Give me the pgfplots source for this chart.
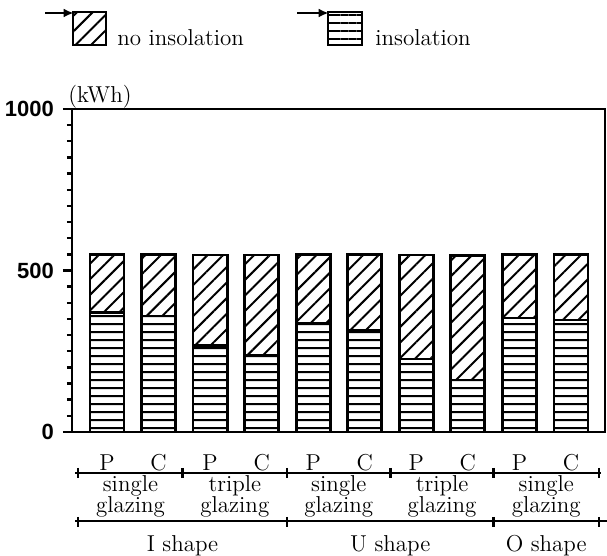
\documentclass[border=0pt]{standalone}
\usepackage{fontspec}
\usepackage{pgfplots}
\pgfplotsset{compat=1.18}
\usetikzlibrary{patterns.meta, arrows.meta}
\newfontfamily\ticksans{Liberation Sans}

\begin{document}
\begin{tikzpicture}[font=\fontsize{11.5}{10.5}\selectfont]
\useasboundingbox (-36pt,-62pt) rectangle (267.5pt,216pt);
\begin{axis}[
  at={(0,0)}, anchor=south west,
  scale only axis, width=266.5pt, height=161.5pt,
  xmin=-0.679, xmax=9.66, ymin=0, ymax=1000,
  ybar stacked, bar width=0.66,
  axis line style={line width=1.2pt},
  xtick={0,...,9}, xticklabels={P,C,P,C,P,C,P,C,P,C},
  x tick style={draw=none},
  xticklabel style={anchor=base, yshift=-15pt, font=\fontsize{11.5}{13}\selectfont},
  ytick={0,500,1000}, minor y tick num=9,
  ytick pos=left, tick align=outside,
  major tick length=4.5pt, minor tick length=2.5pt,
  y tick style={line width=1.2pt, black},
  /pgf/number format/1000 sep={},
  /pgf/number format/assume math mode=true,
  yticklabel style={font=\ticksans\bfseries\fontsize{11}{12}\selectfont, xshift=-1pt},
  clip=false,
]
% insolation (bottom part)
\addplot[draw=black, line width=1.4pt, pattern={Lines[angle=0,distance=4pt,line width=1pt]}]
  coordinates {(0,371) (1,359) (2,269) (3,238) (4,337) (5,316) (6,226) (7,161) (8,353) (9,347)};
% no insolation (top part)
\addplot[draw=black, line width=1.4pt, pattern={Lines[angle=45,distance=5.5pt,line width=1pt]}]
  coordinates {(0,179) (1,191) (2,279) (3,310) (4,213) (5,234) (6,322) (7,386) (8,197) (9,203)};

% unit label
\node[anchor=base west, inner sep=0] at ([xshift=-2pt,yshift=3pt]axis cs:-0.679,1000) {(kWh)};

% first bracket line
\draw[line width=1.1pt] ([yshift=-20.5pt]axis cs:-0.62,0) -- ([yshift=-20.5pt]axis cs:9.58,0);
\draw[line width=1.3pt] ([yshift=-18pt]axis cs:-0.56,0) -- ([yshift=-23pt]axis cs:-0.56,0);
\draw[line width=1.3pt] ([yshift=-18pt]axis cs:1.47,0) -- ([yshift=-23pt]axis cs:1.47,0);
\draw[line width=1.3pt] ([yshift=-18pt]axis cs:3.49,0) -- ([yshift=-23pt]axis cs:3.49,0);
\draw[line width=1.3pt] ([yshift=-18pt]axis cs:5.5,0) -- ([yshift=-23pt]axis cs:5.5,0);
\draw[line width=1.3pt] ([yshift=-18pt]axis cs:7.5,0) -- ([yshift=-23pt]axis cs:7.5,0);
\draw[line width=1.3pt] ([yshift=-18pt]axis cs:9.54,0) -- ([yshift=-23pt]axis cs:9.54,0);

% glazing labels
\node[anchor=base, inner sep=0] at ([yshift=-30pt]axis cs:0.455,0) {single};
\node[anchor=base, inner sep=0] at ([yshift=-40.5pt]axis cs:0.455,0) {glazing};
\node[anchor=base, inner sep=0] at ([yshift=-30pt]axis cs:2.48,0) {triple};
\node[anchor=base, inner sep=0] at ([yshift=-40.5pt]axis cs:2.48,0) {glazing};
\node[anchor=base, inner sep=0] at ([yshift=-30pt]axis cs:4.495,0) {single};
\node[anchor=base, inner sep=0] at ([yshift=-40.5pt]axis cs:4.495,0) {glazing};
\node[anchor=base, inner sep=0] at ([yshift=-30pt]axis cs:6.5,0) {triple};
\node[anchor=base, inner sep=0] at ([yshift=-40.5pt]axis cs:6.5,0) {glazing};
\node[anchor=base, inner sep=0] at ([yshift=-30pt]axis cs:8.52,0) {single};
\node[anchor=base, inner sep=0] at ([yshift=-40.5pt]axis cs:8.52,0) {glazing};

% second bracket line
\draw[line width=1.1pt] ([yshift=-44.5pt]axis cs:-0.62,0) -- ([yshift=-44.5pt]axis cs:9.72,0);
\draw[line width=1.3pt] ([yshift=-42.5pt]axis cs:-0.56,0) -- ([yshift=-47.5pt]axis cs:-0.56,0);
\draw[line width=1.3pt] ([yshift=-42.5pt]axis cs:3.49,0) -- ([yshift=-47.5pt]axis cs:3.49,0);
\draw[line width=1.3pt] ([yshift=-42.5pt]axis cs:7.5,0) -- ([yshift=-47.5pt]axis cs:7.5,0);
\draw[line width=1.3pt] ([yshift=-42.5pt]axis cs:9.54,0) -- ([yshift=-47.5pt]axis cs:9.54,0);

% shape labels
\node[anchor=base, inner sep=0] at ([yshift=-60pt]axis cs:1.465,0) {I shape};
\node[anchor=base, inner sep=0] at ([yshift=-60pt]axis cs:5.495,0) {U shape};
\node[anchor=base, inner sep=0] at ([yshift=-60pt]axis cs:8.52,0) {O shape};
\end{axis}

% legend
\draw[line width=1.1pt, -{Latex[length=5pt,width=4.5pt]}] (-13.5pt,209.5pt) -- (0.8pt,209.5pt);
\draw[line width=1.4pt, pattern={Lines[angle=45,distance=5.5pt,line width=1pt]}] (0.5pt,193.5pt) rectangle (17pt,210pt);
\node[anchor=base west, inner sep=0] at (22.5pt,193pt) {no insolation};
\draw[line width=1.1pt, -{Latex[length=5pt,width=4.5pt]}] (112.5pt,209.5pt) -- (128.3pt,209.5pt);
\draw[line width=1.4pt, pattern={Lines[angle=0,distance=4.1pt,line width=1pt]}] (128pt,193.5pt) rectangle (145pt,210pt);
\node[anchor=base west, inner sep=0] at (151.5pt,193pt) {insolation};
\end{tikzpicture}
\end{document}
